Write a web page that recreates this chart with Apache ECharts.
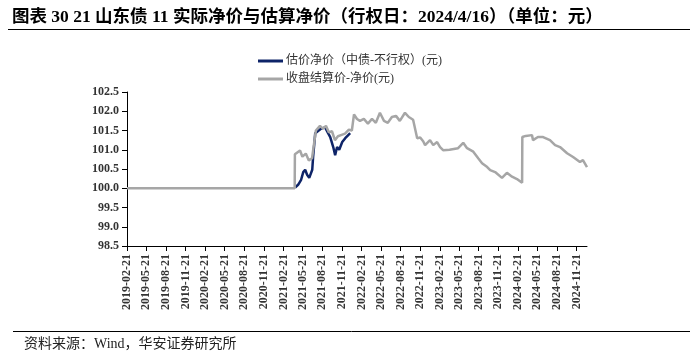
<!DOCTYPE html>
<html>
<head>
<meta charset="utf-8">
<script src="https://cdn.jsdelivr.net/npm/echarts@6/dist/echarts.min.js"></script>
<style>html,body{margin:0;padding:0;background:#fff}#c{width:700px;height:359px}</style>
</head>
<body>
<div id="c"></div>
<script>
var titleText = '图表 30 21 山东债 11 实际净价与估算净价（行权日：2024/4/16）（单位：元）';
var sourceText = '资料来源：Wind，华安证券研究所';
var seriesNames = ['估价净价（中债-不行权）(元)', '收盘结算价-净价(元)'];
var tickDates = ['2019-02-21','2019-05-21','2019-08-21','2019-11-21','2020-02-21','2020-05-21','2020-08-21','2020-11-21',
  '2021-02-21','2021-05-21','2021-08-21','2021-11-21','2022-02-21','2022-05-21','2022-08-21','2022-11-21',
  '2023-02-21','2023-05-21','2023-08-21','2023-11-21','2024-02-21','2024-05-21','2024-08-21','2024-11-21'];
var xMin = '2019-02-21';
var xMax = '2025-01-08';
var yMin = 98.5, yMax = 102.5, yStep = 0.5;

var blueDates = ['2021-04-16','2021-04-21','2021-04-30','2021-05-14','2021-05-24','2021-06-02','2021-06-11','2021-06-21',
  '2021-07-05','2021-07-09','2021-07-19','2021-07-28','2021-08-16','2021-09-03','2021-09-17','2021-09-27','2021-10-11',
  '2021-10-20','2021-10-29','2021-11-08','2021-11-22','2021-12-06','2021-12-20','2021-12-29'];
var blueValues = [100.02,100.03,100.09,100.22,100.42,100.48,100.35,100.27,
  100.48,100.81,101.43,101.46,101.55,101.58,101.43,101.33,101.07,
  100.86,101.07,101.00,101.20,101.30,101.38,101.43];

var greyDates = ['2019-02-21','2021-04-14','2021-04-15','2021-04-24','2021-05-09','2021-05-20','2021-06-05','2021-06-19',
  '2021-07-04','2021-07-22','2021-08-10','2021-08-24','2021-09-07','2021-09-21','2021-10-05','2021-10-19','2021-11-02',
  '2021-11-16','2021-12-05','2021-12-23','2022-01-06','2022-01-16','2022-01-30','2022-02-13','2022-03-03','2022-03-22',
  '2022-04-10','2022-04-28','2022-05-17','2022-06-05','2022-06-23','2022-07-12','2022-07-31','2022-08-18','2022-09-11',
  '2022-09-29','2022-10-19','2022-11-07','2022-11-21','2022-12-05','2022-12-14','2023-01-06','2023-01-21','2023-02-08',
  '2023-02-22','2023-03-08','2023-04-07','2023-05-17','2023-06-10','2023-06-28','2023-07-27','2023-08-19','2023-09-06',
  '2023-09-30','2023-10-14','2023-11-06','2023-12-08','2023-12-31','2024-01-24','2024-02-16','2024-03-11','2024-03-12',
  '2024-03-28','2024-04-26','2024-05-01','2024-05-24','2024-06-17','2024-07-19','2024-08-12','2024-09-04','2024-10-07',
  '2024-11-04','2024-12-06','2024-12-20','2025-01-08'];
var greyValues = [100.00,100.00,100.88,100.92,100.98,100.82,100.90,100.72,
  100.78,101.50,101.62,101.55,101.62,101.45,101.48,101.25,101.35,
  101.38,101.42,101.52,101.50,101.92,101.80,101.75,101.80,101.68,
  101.80,101.70,101.96,101.75,101.70,101.85,101.88,101.75,101.96,
  101.85,101.78,101.30,101.32,101.22,101.12,101.25,101.12,101.20,
  101.07,100.99,101.00,101.04,101.18,101.04,100.95,100.78,100.65,
  100.55,100.47,100.42,100.27,100.40,100.30,100.24,100.14,101.33,
  101.36,101.38,101.25,101.33,101.33,101.25,101.12,101.07,100.91,
  100.81,100.68,100.73,100.55];

function ts(s) { var p = s.split('-'); return Date.UTC(+p[0], +p[1] - 1, +p[2]); }
function pad(n) { return n < 10 ? '0' + n : '' + n; }
function fmt(v) { var d = new Date(v); return d.getUTCFullYear() + '-' + pad(d.getUTCMonth() + 1) + '-' + pad(d.getUTCDate()); }
function pairs(ds, vs) { return ds.map(function (d, i) { return [ts(d), vs[i]]; }); }

var serif = "'Liberation Serif', 'Noto Sans CJK SC', serif";
var tickTs = tickDates.map(ts);
var chart = echarts.init(document.getElementById('c'), null, { renderer: 'canvas' });
chart.setOption({
  animation: false,
  backgroundColor: '#fff',
  title: {
    text: titleText, left: 7, top: 4,
    textStyle: { fontFamily: serif, fontSize: 17.5, fontWeight: 'bold', color: '#000' }
  },
  graphic: [
    { type: 'line', shape: { x1: 8, y1: 29.5, x2: 690, y2: 29.5 }, style: { stroke: '#000', lineWidth: 1 } },
    { type: 'line', shape: { x1: 13, y1: 331.5, x2: 690, y2: 331.5 }, style: { stroke: '#000', lineWidth: 1 } },
    { type: 'text', left: 24, top: 337, style: { text: sourceText, font: "14px " + serif, fill: '#222' } }
  ],
  legend: {
    orient: 'vertical', left: 253, top: 50, itemWidth: 25, itemHeight: 3, itemGap: 6, icon: 'rect',
    textStyle: { fontFamily: serif, fontSize: 12, color: '#333', padding: [0, 0, 0, -2] },
    data: seriesNames
  },
  grid: { left: 127, right: 113, top: 92, bottom: 113, containLabel: false },
  xAxis: {
    type: 'value', min: ts(xMin), max: ts(xMax), scale: true,
    axisLine: { lineStyle: { color: '#000', width: 1 } },
    axisTick: { show: true, customValues: tickTs, length: 5, lineStyle: { color: '#000' } },
    axisLabel: {
      customValues: tickTs, rotate: 90, margin: 8, formatter: function (v) { return fmt(v); },
      fontFamily: serif, fontSize: 12, fontWeight: 'bold', color: '#333', hideOverlap: false
    },
    splitLine: { show: false }
  },
  yAxis: {
    type: 'value', min: yMin, max: yMax, interval: yStep,
    axisLine: { show: true, lineStyle: { color: '#000', width: 1 } },
    axisTick: { show: true, length: 5, lineStyle: { color: '#000' } },
    axisLabel: { formatter: function (v) { return v.toFixed(1); }, margin: 8,
      fontFamily: serif, fontSize: 12, fontWeight: 'bold', color: '#333' },
    splitLine: { show: false }
  },
  series: [
    { name: seriesNames[0], type: 'line', symbol: 'none', data: pairs(blueDates, blueValues),
      lineStyle: { color: '#0E2468', width: 2.5 }, itemStyle: { color: '#0E2468' } },
    { name: seriesNames[1], type: 'line', symbol: 'none', data: pairs(greyDates, greyValues),
      lineStyle: { color: '#A6A6A6', width: 2.5 }, itemStyle: { color: '#A6A6A6' } }
  ]
});
</script>
</body>
</html>
